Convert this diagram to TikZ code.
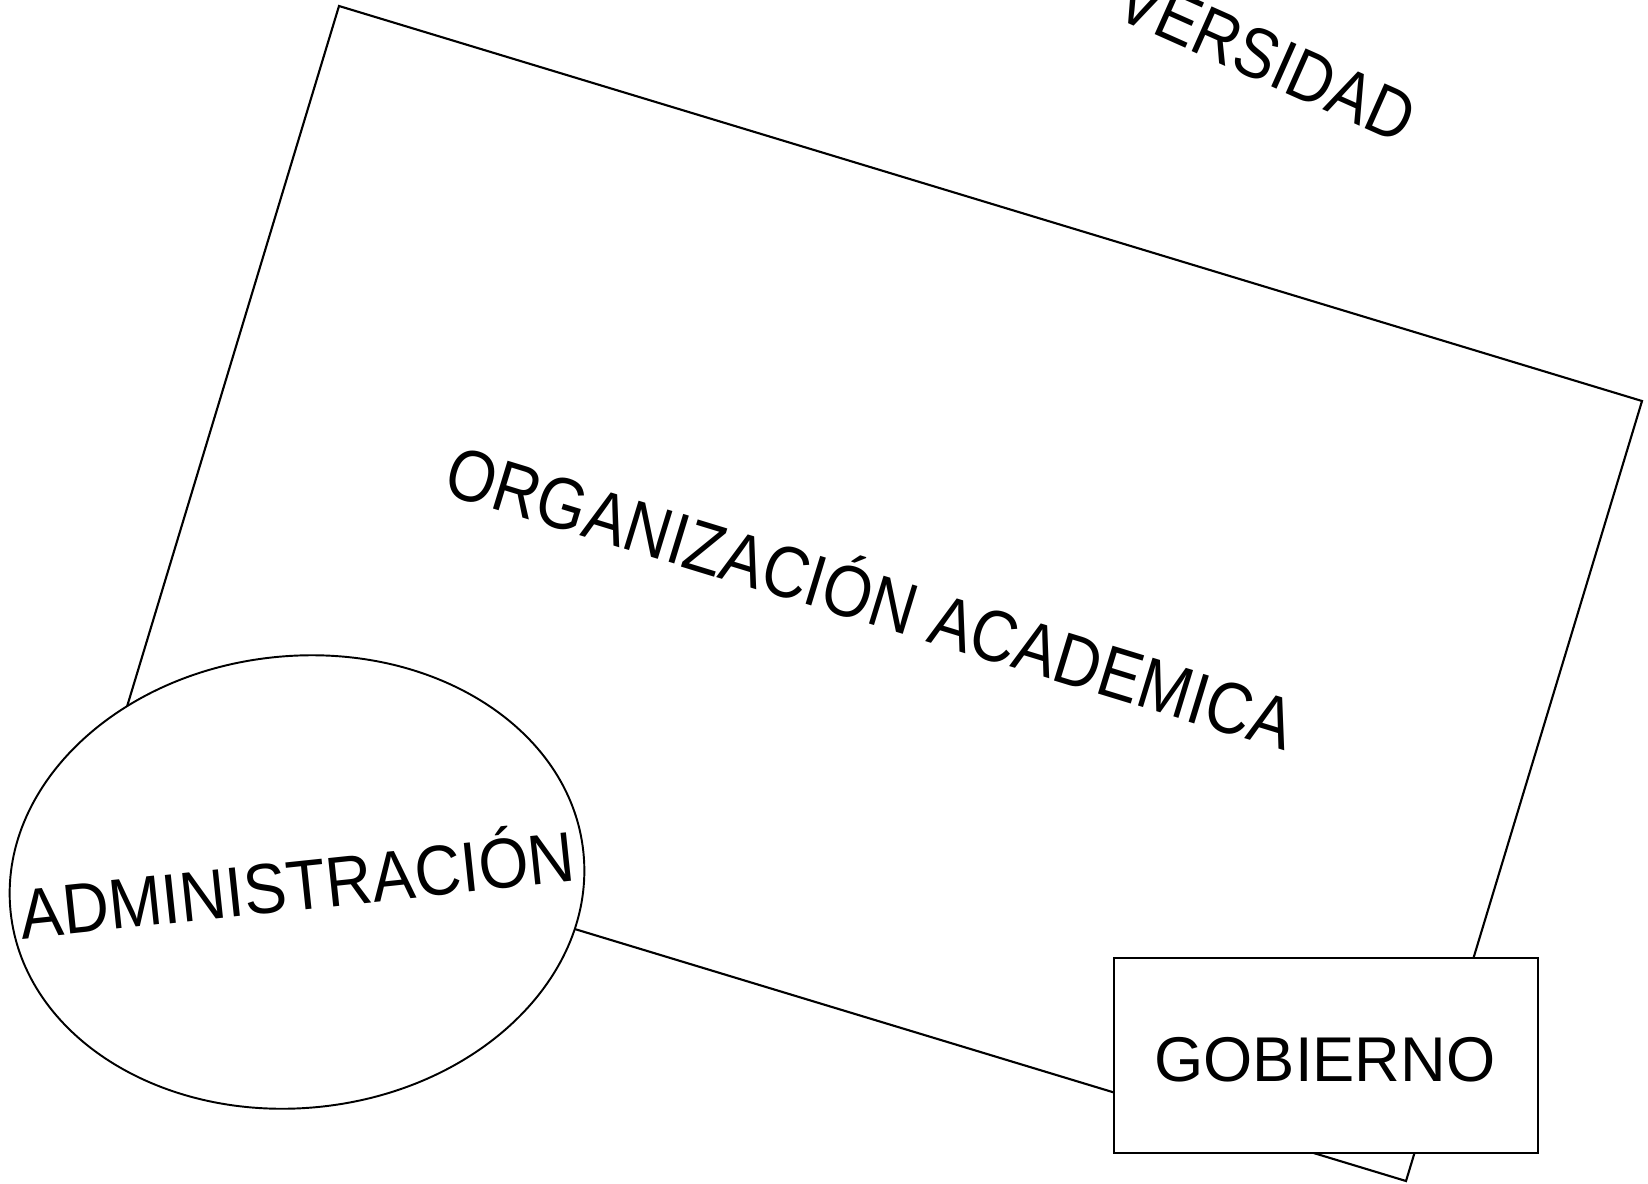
\documentclass[tikz,border=0pt]{standalone}
\usepackage{fontspec}
\setmainfont{Liberation Sans}
\usetikzlibrary{shapes.geometric}
\begin{document}
\begin{tikzpicture}[x=0.02cm,y=-0.02cm,
  outline/.style={draw=black,line width=1.2pt,line join=miter},
  bigtext/.style={font=\fontsize{35.2pt}{40pt}\selectfont,inner sep=0pt,anchor=base}]
\useasboundingbox (0,0) rectangle (1648,1183);
\clip (0,0) rectangle (1648,1183);
\fill[white] (0,0) rectangle (1648,1183);
% rotated rectangle (UNIVERSIDAD)
\coordinate (rA) at (339,6);
\coordinate (rB) at (1642,401);
\coordinate (rC) at (1406,1181);
\coordinate (rD) at (103,786);
\draw[outline] (rA) -- (rB) -- (rC) -- (rD) -- cycle;
\node[bigtext,anchor=base west,rotate=-24,yscale=1.15] (univ) at (1112,16) {VERSIDAD};
\node[bigtext,font=\fontsize{36pt}{40pt}\selectfont,rotate=-17,yscale=1.15] (org) at (863,622) {ORGANIZACIÓN ACADEMICA};
% ellipse
\node[ellipse,draw=black,line width=1.1pt,fill=white,minimum width=11.52cm,minimum height=9.04cm,inner sep=0pt,rotate=6] (admin) at (297,882) {};
\node[bigtext,font=\fontsize{36.6pt}{40pt}\selectfont,rotate=6,yscale=1.1] (admintext) at (300,910) {ADMINISTRACIÓN};
% gobierno box
\node[draw=black,line width=1.2pt,fill=white,minimum width=8.48cm,minimum height=3.9cm,inner sep=0pt] (gob) at (1326,1055.5) {};
\node[bigtext,font=\fontsize{36pt}{40pt}\selectfont] (gobtext) at (1325,1081) {GOBIERNO};
\end{tikzpicture}
\end{document}
